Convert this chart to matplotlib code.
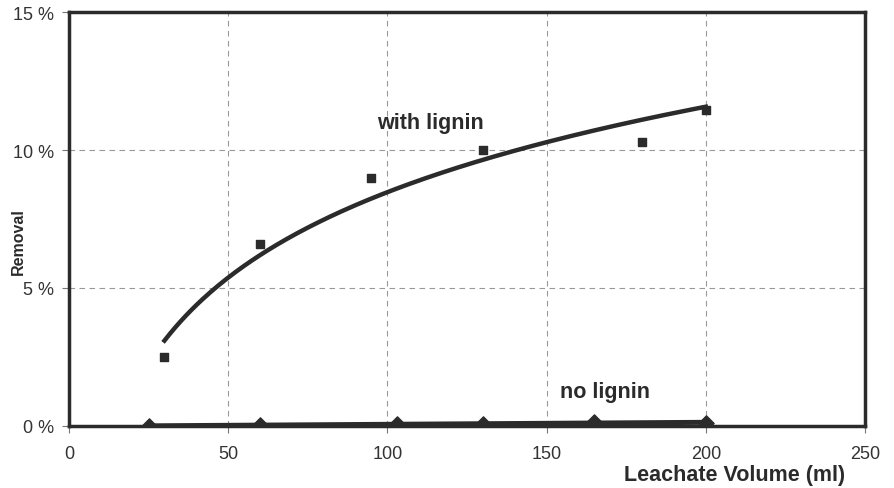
import numpy as np
import matplotlib
matplotlib.use("Agg")
import matplotlib.pyplot as plt
from matplotlib.ticker import FuncFormatter

# with lignin (squares)
withVol = [30, 60, 95, 130, 180, 200]
withRem = [2.5, 6.6, 9.0, 10.0, 10.3, 11.45]
# no lignin (diamonds)
noVol = [25, 60, 103, 130, 165, 200]
noRem = [0.0, 0.02, 0.07, 0.06, 0.15, 0.1]

xTicks = [0, 50, 100, 150, 200, 250]
yTicks = [0, 5, 10, 15]

plt.rcParams['font.family'] = ['Liberation Sans', 'DejaVu Sans']
dark = "#2b2b2b"

fig = plt.figure(figsize=(8.95, 4.89), dpi=100)
ax = fig.add_axes([0.077, 0.127, 0.8895, 0.846])

# logarithmic trend lines, fitted from the points
a, b = np.polyfit(np.log(withVol), withRem, 1)
xs = np.linspace(min(withVol), max(withVol), 200)
ax.plot(xs, a * np.log(xs) + b, color=dark, lw=3.2, zorder=3)
c, d = np.polyfit(noVol, noRem, 1)
xs2 = np.linspace(min(noVol), max(noVol), 50)
ax.plot(xs2, c * xs2 + d, color=dark, lw=3.6, zorder=3)

ax.scatter(withVol, withRem, marker="s", s=40, color=dark, zorder=4)
ax.scatter(noVol, noRem, marker="D", s=60, color=dark, zorder=4)

ax.set_xlim(0, 250)
ax.set_ylim(0, 15)
ax.set_xticks(xTicks)
ax.set_yticks(yTicks)
ax.yaxis.set_major_formatter(FuncFormatter(lambda v, p: f"{int(v)} %"))
ax.grid(True, color="#999999", ls=(0, (5, 4)), lw=0.8)
ax.set_axisbelow(True)
for s in ax.spines.values():
    s.set_linewidth(2.5)
    s.set_color(dark)
ax.tick_params(length=5, width=0.8, color="#777777", labelsize=13,
               labelcolor="#333333", pad=6)
ax.tick_params(axis="x", pad=9)

ax.text(113.5, 11.0, "with lignin", fontsize=15.5, fontweight="bold",
        color=dark, ha="center", va="center")
ax.text(168.5, 1.24, "no lignin", fontsize=15.5, fontweight="bold",
        color=dark, ha="center", va="center")

fig.text(0.944, 0.028, "Leachate Volume (ml)", fontsize=15.5, fontweight="bold",
         color=dark, ha="right", va="center")
fig.text(0.02, 0.505, "Removal", fontsize=11.5, fontweight="bold",
         color=dark, ha="center", va="center", rotation=90)

fig.savefig("out.png", dpi=100)
